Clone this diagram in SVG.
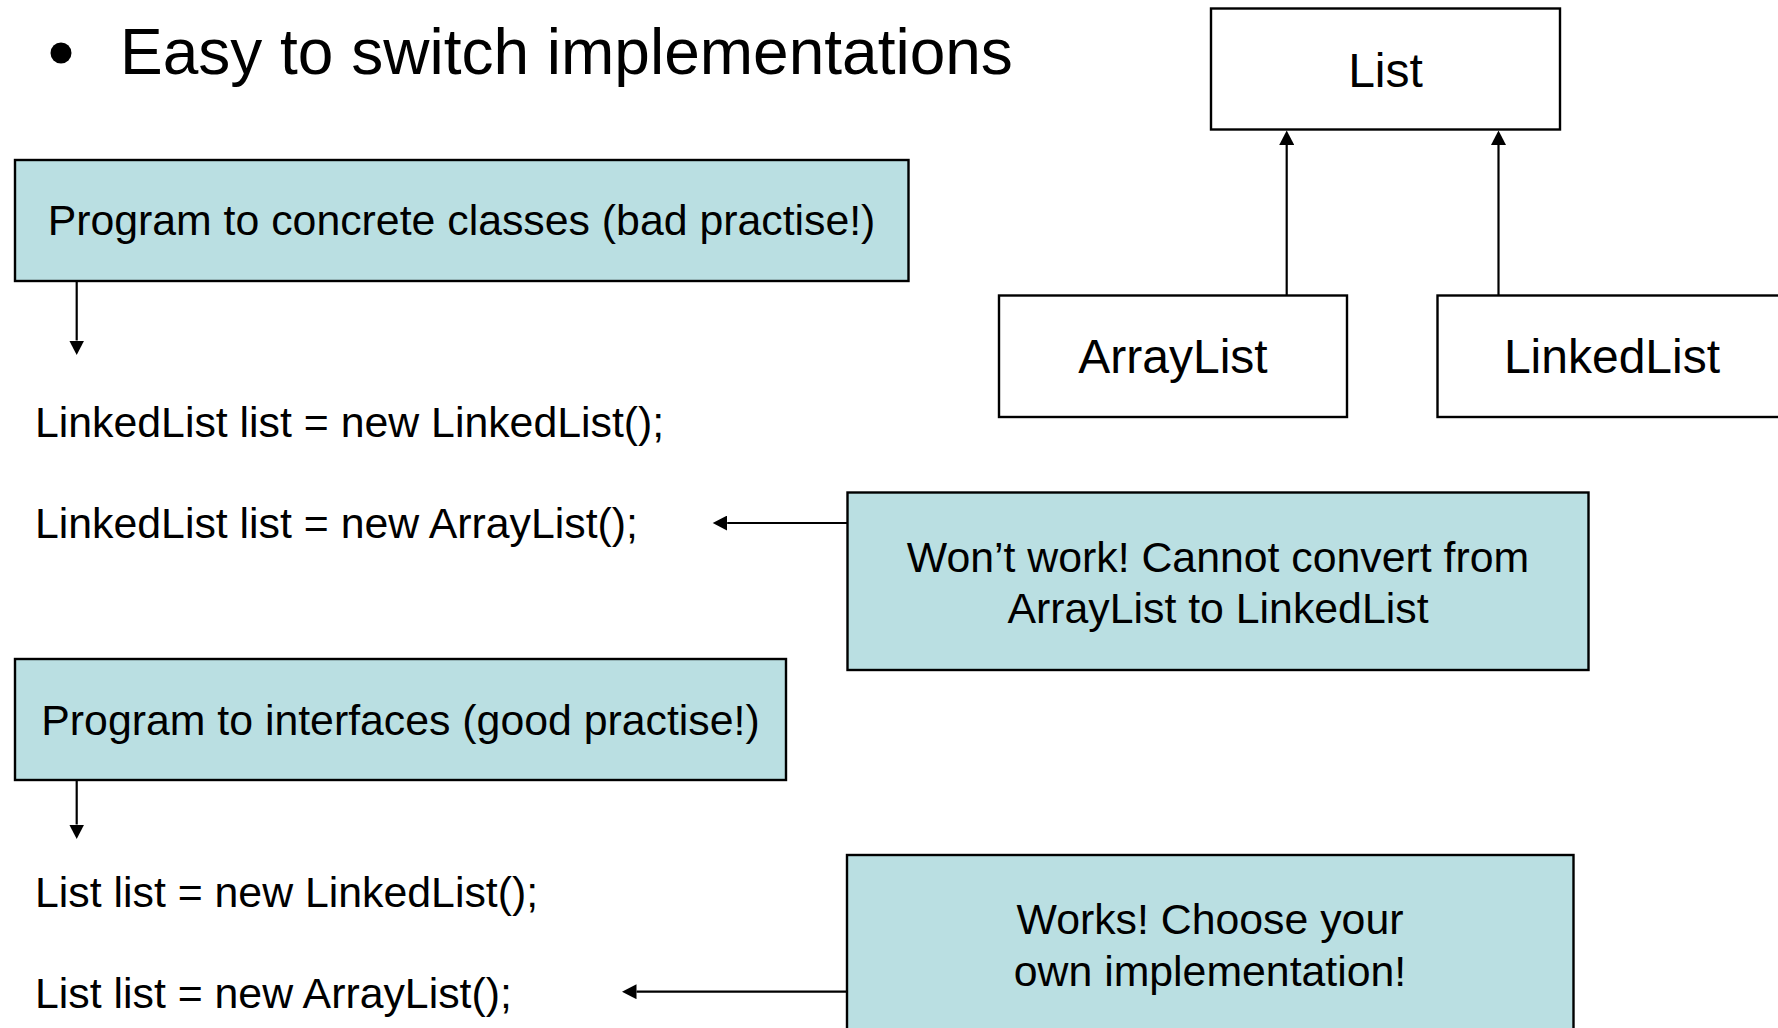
<svg xmlns="http://www.w3.org/2000/svg" width="1778" height="1028" viewBox="0 0 1778 1028">
  <style>
    text { font-family: "Liberation Sans", Arial, sans-serif; fill: #000; }
    .note { fill: #BADFE2; stroke: #000; stroke-width: 2.4; }
    .cls { fill: #fff; stroke: #000; stroke-width: 2.4; }
    .body { font-size: 42.8px; }
    .cname { font-size: 48px; text-anchor: middle; }
    .mid { text-anchor: middle; }
    .title { font-size: 64px; }
    .wire { fill: none; stroke: #000; stroke-width: 2.2; }
  </style>
  <defs>
    <marker id="head" markerUnits="userSpaceOnUse" markerWidth="15" markerHeight="15" refX="0" refY="7.5" orient="auto" viewBox="0 0 15 15">
      <path d="M0,0 L14.5,7.5 L0,15 z" fill="#000"/>
    </marker>
  </defs>

  <rect width="1778" height="1028" fill="#fff"/>

  <!-- heading -->
  <g id="heading">
    <circle cx="61" cy="53" r="10.5" fill="#000"/>
    <text class="title" x="120" y="73.5">Easy to switch implementations</text>
  </g>

  <!-- UML: interface and its two implementations -->
  <g id="list">
    <rect class="cls" x="1211" y="8.5" width="349" height="121"/>
    <text class="cname" x="1385.5" y="87">List</text>
  </g>
  <g id="arraylist">
    <rect class="cls" x="999" y="295.5" width="348" height="121.5"/>
    <text class="cname" x="1173" y="373">ArrayList</text>
  </g>
  <g id="linkedlist">
    <rect class="cls" x="1437.5" y="295.5" width="349" height="121.5"/>
    <text class="cname" x="1612" y="373">LinkedList</text>
  </g>

  <!-- concrete-class example -->
  <g id="concrete">
    <rect class="note" x="15" y="160" width="893.5" height="121"/>
    <text class="body mid" x="461.5" y="235">Program to concrete classes (bad practise!)</text>
  </g>
  <g id="code-concrete-1">
    <text class="body" x="35" y="437">LinkedList list = new LinkedList();</text>
  </g>
  <g id="code-concrete-2">
    <text class="body" x="35" y="538">LinkedList list = new ArrayList();</text>
  </g>
  <g id="wont-work">
    <rect class="note" x="847.5" y="492.5" width="741" height="177.5"/>
    <text class="body mid" x="1218" y="572">Won’t work! Cannot convert from</text>
    <text class="body mid" x="1218" y="623">ArrayList to LinkedList</text>
  </g>

  <!-- interface example -->
  <g id="interfaces">
    <rect class="note" x="15" y="659" width="771" height="121"/>
    <text class="body mid" x="400.5" y="735">Program to interfaces (good practise!)</text>
  </g>
  <g id="code-interface-1">
    <text class="body" x="35" y="907">List list = new LinkedList();</text>
  </g>
  <g id="code-interface-2">
    <text class="body" x="35" y="1008">List list = new ArrayList();</text>
  </g>
  <g id="works">
    <rect class="note" x="847" y="855" width="726.5" height="200"/>
    <text class="body mid" x="1210" y="934">Works! Choose your</text>
    <text class="body mid" x="1210" y="986">own implementation!</text>
  </g>

  <!-- connectors -->
  <g id="connectors">
    <line class="wire" x1="1286.7" y1="295.5" x2="1286.7" y2="145" marker-end="url(#head)"/>
    <line class="wire" x1="1498.5" y1="295.5" x2="1498.5" y2="145" marker-end="url(#head)"/>
    <line class="wire" x1="76.7" y1="281" x2="76.7" y2="340.5" marker-end="url(#head)"/>
    <line class="wire" x1="76.7" y1="780" x2="76.7" y2="824.5" marker-end="url(#head)"/>
    <line class="wire" x1="847.5" y1="523" x2="727.2" y2="523" marker-end="url(#head)"/>
    <line class="wire" x1="847" y1="991.7" x2="636.5" y2="991.7" marker-end="url(#head)"/>
  </g>
</svg>
